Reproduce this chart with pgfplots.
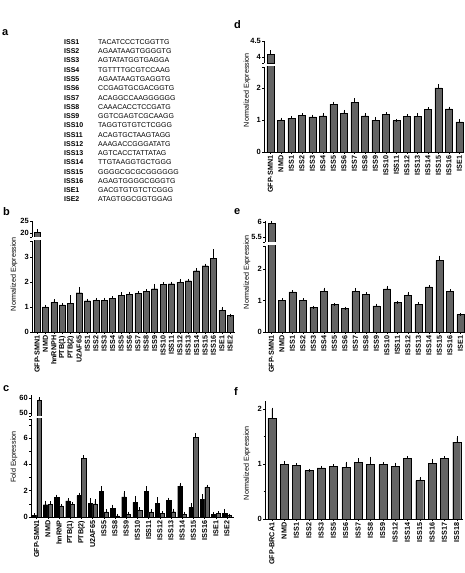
\documentclass[border=0pt]{standalone}
\usepackage{fontspec}
\setmainfont{Liberation Sans}
\usepackage{pgfplots}
\pgfplotsset{compat=1.18}
\definecolor{barg}{RGB}{100,100,100}
\pgfplotsset{
  base/.style={scale only axis, anchor=south west,
    /pgf/number format/assume math mode=true,
    tick align=outside, tick style={black, line width=0.4pt},
    major tick length=2pt, minor tick length=1.5pt,
    axis line style={-, line width=0.5pt},
    y tick label style={font=\bfseries\fontsize{7.5}{8}\selectfont, inner sep=1pt},
    x tick label style={rotate=90, anchor=east, font=\bfseries\fontsize{7.2}{8}\selectfont, inner sep=1.5pt},
    ytick pos=left, xtick pos=bottom,
  },
  lower/.style={base, axis lines*=left, ymin=0},
  upper/.style={base, axis y line*=left, axis x line=none, xtick=\empty},
  errs/.style={error bars/y dir=plus, error bars/y explicit,
    error bars/error bar style={line width=0.4pt, black},
    error bars/error mark options={line width=0.4pt, mark size=1.5pt, black}},
  gbar/.style={ybar, fill=barg, draw=black, line width=0.45pt, errs},
  kbar/.style={ybar, fill=black, draw=black, line width=0.45pt, errs},
}
\begin{document}
\begin{tikzpicture}
% ---------- panel letters ----------
\tikzset{plet/.style={anchor=west, inner sep=0pt, font=\bfseries\fontsize{11}{12}\selectfont}}
\node[plet] at (2pt,540pt) {a};
\node[plet] at (3pt,361pt) {b};
\node[plet] at (3pt,184pt) {c};
\node[plet] at (234pt,548pt) {d};
\node[plet] at (234pt,361pt) {e};
\node[plet] at (234pt,181pt) {f};
% ---------- panel a ----------
\foreach \l/\s [count=\i from 0] in {ISS1/TACATCCCTCGGTTG, ISS2/AGAATAAGTGGGGTG, ISS3/AGTATATGGTGAGGA, ISS4/TGTTTTGCGTCCAAG, ISS5/AGAATAAGTGAGGTG, ISS6/CCGAGTGCGACGGTG, ISS7/ACAGGCCAAGGGGGG, ISS8/CAAACACCTCCGATG, ISS9/GGTCGAGTCGCAAGG, ISS10/TAGGTGTGTCTCGGG, ISS11/ACAGTGCTAAGTAGG, ISS12/AAAGACCGGGATATG, ISS13/AGTCACCTATTATAG, ISS14/TTGTAAGGTGCTGGG, ISS15/GGGGCGCGCGGGGGG, ISS16/AGAGTGGGGCGGGTG, ISE1/GACGTGTGTCTCGGG, ISE2/ATAGTGGCGGTGGAG}{
  \node[anchor=west, inner sep=0pt, font=\bfseries\fontsize{7}{8}\selectfont] at (64pt,{(573-42-\i*9.27)*1pt}) {\l};
  \node[anchor=west, inner sep=0pt, font=\fontsize{7}{8}\selectfont] at (98pt,{(573-42-\i*9.27)*1pt}) {\s};
}
% ---------- y labels ----------
\tikzset{ylab/.style={rotate=90, inner sep=0pt, font=\fontsize{7.2}{8}\selectfont}}
\node[ylab] at (14pt,299pt) {Normalized Expression};
\node[ylab] at (14pt,116pt) {Fold Expression};
\node[ylab] at (247pt,483pt) {Normalized Expression};
\node[ylab] at (247pt,301pt) {Normalized Expression};
\node[ylab] at (247pt,110pt) {Normalized Expression};
% ---------- panel b ----------
\begin{axis}[lower, at={(32pt,241pt)}, width=203.3pt, height=91pt,
  xmin=-0.6, xmax=23.6, ymax=3.64, ytick={0,1,2,3},
  extra y ticks={3.64}, extra y tick labels={},
  xtick={0,...,23},
  xticklabels={GFP-SMN1,NMD,hnRNPH,PTB(1),PTB(2),U2AF65,ISS1,ISS2,ISS3,ISS4,ISS5,ISS6,ISS7,ISS8,ISS9,ISS10,ISS11,ISS12,ISS13,ISS14,ISS15,ISS16,ISE1,ISE2}]
\addplot[gbar, bar width=6pt] coordinates {
(0,20.5) +- (0,0.5)
(1,1.0) +- (0,0.02)
(2,1.18) +- (0,0.07)
(3,1.08) +- (0,0.02)
(4,1.15) +- (0,0.25)
(5,1.57) +- (0,0.17)
(6,1.25) +- (0,0.02)
(7,1.27) +- (0,0.03)
(8,1.27) +- (0,0.03)
(9,1.35) +- (0,0.02)
(10,1.47) +- (0,0.06)
(11,1.50) +- (0,0.05)
(12,1.54) +- (0,0.03)
(13,1.63) +- (0,0.02)
(14,1.73) +- (0,0.12)
(15,1.90) +- (0,0.02)
(16,1.93) +- (0,0.02)
(17,1.98) +- (0,0.08)
(18,2.05) +- (0,0.02)
(19,2.45) +- (0,0.04)
(20,2.65) +- (0,0.02)
(21,2.95) +- (0,0.30)
(22,0.87) +- (0,0.07)
(23,0.67) +- (0,0.0)
};
\end{axis}
\begin{axis}[upper, at={(32pt,336pt)}, width=203.3pt, height=16pt,
  xmin=-0.6, xmax=23.6, ymin=18.33, ymax=25, ytick={20,25},
  extra y ticks={18.33}, extra y tick labels={}]
\addplot[gbar, bar width=6pt] coordinates {(0,20.5) +- (0,0.5)};
\end{axis}
% ---------- panel c ----------
\begin{axis}[lower, at={(31pt,56pt)}, width=202.7pt, height=98pt,
  xmin=-0.5, xmax=17.6, ymax=7.44, ytick={0,2,4,6}, minor ytick={1,3,5,7},
  extra y ticks={7.44}, extra y tick labels={},
  ybar=0.3pt, bar width=4.3pt,
  xtick={0,...,17},
  xticklabels={GFP-SMN1,NMD,hnRNP,PTB(1),PTB(2),U2AF65,ISS5,ISS8,ISS9,ISS10,ISS11,ISS12,ISS13,ISS14,ISS15,ISS16,ISE1,ISE2}]
\addplot[kbar] coordinates {
(0,0.10) +- (0,0.08)
(1,0.93) +- (0,0.20)
(2,1.47) +- (0,0.12)
(3,1.22) +- (0,0.10)
(4,1.62) +- (0,0.12)
(5,1.04) +- (0,0.28)
(6,1.97) +- (0,0.25)
(7,0.68) +- (0,0.15)
(8,1.52) +- (0,0.32)
(9,1.11) +- (0,0.38)
(10,1.95) +- (0,0.27)
(11,1.04) +- (0,0.33)
(12,1.24) +- (0,0.12)
(13,2.35) +- (0,0.12)
(14,0.73) +- (0,0.20)
(15,1.32) +- (0,0.30)
(16,0.18) +- (0,0.08)
(17,0.30) +- (0,0.20)
};
\addplot[gbar] coordinates {
(0,58.5) +- (0,1.0)
(1,0.97) +- (0,0.12)
(2,0.85) +- (0,0.03)
(3,0.97) +- (0,0.05)
(4,4.46) +- (0,0.12)
(5,1.00) +- (0,0.22)
(6,0.38) +- (0,0.12)
(7,0.08) +- (0,0.05)
(8,0.20) +- (0,0.10)
(9,0.52) +- (0,0.12)
(10,0.35) +- (0,0.12)
(11,0.25) +- (0,0.10)
(12,0.40) +- (0,0.12)
(13,0.20) +- (0,0.10)
(14,6.05) +- (0,0.20)
(15,2.25) +- (0,0.10)
(16,0.25) +- (0,0.06)
(17,0.12) +- (0,0.03)
};
\end{axis}
\begin{axis}[upper, at={(31pt,157pt)}, width=202.7pt, height=21pt,
  xmin=-0.5, xmax=17.6, ymin=48, ymax=62, ytick={50,60},
  extra y ticks={48}, extra y tick labels={},
  ybar=0.3pt, bar width=4.3pt]
\addplot[kbar] coordinates {(0,0.10)};
\addplot[gbar] coordinates {(0,58.5) +- (0,1.0)};
\end{axis}
% ---------- panel d ----------
\begin{axis}[lower, at={(264pt,421pt)}, width=200pt, height=85pt,
  xmin=-0.6, xmax=18.45, ymax=2.66, ytick={0,1,2},
  extra y ticks={2.66}, extra y tick labels={},
  xtick={0,...,18},
  xticklabels={GFP-SMN1,NMD,ISS1,ISS2,ISS3,ISS4,ISS5,ISS6,ISS7,ISS8,ISS9,ISS10,ISS11,ISS12,ISS13,ISS14,ISS15,ISS16,ISE1}]
\addplot[gbar, bar width=7pt] coordinates {
(0,4.08) +- (0,0.08)
(1,1.00) +- (0,0.03)
(2,1.06) +- (0,0.02)
(3,1.15) +- (0,0.02)
(4,1.10) +- (0,0.02)
(5,1.13) +- (0,0.03)
(6,1.50) +- (0,0.03)
(7,1.20) +- (0,0.07)
(8,1.55) +- (0,0.08)
(9,1.13) +- (0,0.03)
(10,1.00) +- (0,0.05)
(11,1.17) +- (0,0.02)
(12,0.98) +- (0,0.01)
(13,1.12) +- (0,0.01)
(14,1.12) +- (0,0.06)
(15,1.34) +- (0,0.02)
(16,2.01) +- (0,0.07)
(17,1.35) +- (0,0.02)
(18,0.94) +- (0,0.03)
};
\end{axis}
\begin{axis}[upper, at={(264pt,509.6pt)}, width=200pt, height=22.4pt,
  xmin=-0.6, xmax=18.45, ymin=3.8, ymax=4.5, ytick={4,4.5},
  extra y ticks={3.8}, extra y tick labels={}]
\addplot[gbar, bar width=7pt] coordinates {(0,4.08) +- (0,0.08)};
\end{axis}
% ---------- panel e ----------
\begin{axis}[lower, at={(265pt,241pt)}, width=200pt, height=86pt,
  xmin=-0.6, xmax=18.45, ymax=2.73, ytick={0,1,2},
  extra y ticks={2.73}, extra y tick labels={},
  xtick={0,...,18},
  xticklabels={GFP-SMN1,NMD,ISS1,ISS2,ISS3,ISS4,ISS5,ISS6,ISS7,ISS8,ISS9,ISS10,ISS11,ISS12,ISS13,ISS14,ISS15,ISS16,ISE1}]
\addplot[gbar, bar width=7pt] coordinates {
(0,5.97) +- (0,0.01)
(1,1.01) +- (0,0.01)
(2,1.27) +- (0,0.01)
(3,1.01) +- (0,0.02)
(4,0.78) +- (0,0.01)
(5,1.30) +- (0,0.06)
(6,0.87) +- (0,0.01)
(7,0.75) +- (0,0.01)
(8,1.28) +- (0,0.07)
(9,1.20) +- (0,0.01)
(10,0.83) +- (0,0.02)
(11,1.37) +- (0,0.05)
(12,0.93) +- (0,0.01)
(13,1.17) +- (0,0.06)
(14,0.88) +- (0,0.01)
(15,1.43) +- (0,0.01)
(16,2.27) +- (0,0.11)
(17,1.30) +- (0,0.01)
(18,0.55) +- (0,0.01)
};
\end{axis}
\begin{axis}[upper, at={(265pt,331pt)}, width=200pt, height=21pt,
  xmin=-0.6, xmax=18.45, ymin=5.33, ymax=6.03, ytick={5.5,6},
  extra y ticks={5.33}, extra y tick labels={}]
\addplot[gbar, bar width=7pt] coordinates {(0,5.97) +- (0,0.01)};
\end{axis}
% ---------- panel f ----------
\begin{axis}[lower, at={(265pt,54pt)}, width=197.9pt, height=118pt,
  xmin=-0.55, xmax=15.5, ymax=2.15, ytick={0,1,2}, minor ytick={0.5,1.5},
  xtick={0,...,15},
  xticklabels={GFP-BRCA1,NMD,ISS1,ISS2,ISS3,ISS5,ISS6,ISS7,ISS8,ISS9,ISS12,ISS14,ISS15,ISS16,ISS17,ISS18}]
\addplot[gbar, bar width=8pt] coordinates {
(0,1.84) +- (0,0.16)
(1,0.99) +- (0,0.04)
(2,0.98) +- (0,0.01)
(3,0.88) +- (0,0.01)
(4,0.93) +- (0,0.01)
(5,0.96) +- (0,0.01)
(6,0.94) +- (0,0.08)
(7,1.03) +- (0,0.05)
(8,1.00) +- (0,0.11)
(9,0.99) +- (0,0.02)
(10,0.96) +- (0,0.04)
(11,1.11) +- (0,0.01)
(12,0.70) +- (0,0.04)
(13,1.01) +- (0,0.06)
(14,1.11) +- (0,0.01)
(15,1.40) +- (0,0.08)
};
\end{axis}
\pgfresetboundingbox
\path (0,0) rectangle (465pt,573pt);
\end{tikzpicture}
\end{document}
